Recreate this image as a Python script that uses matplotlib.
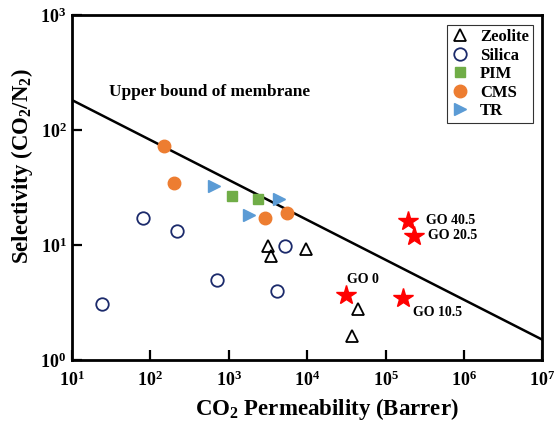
import numpy as np
import matplotlib
matplotlib.use('Agg')
import matplotlib.pyplot as plt
from matplotlib.ticker import FuncFormatter, LogLocator, NullLocator

plt.rcParams['font.family'] = ['Liberation Serif', 'DejaVu Serif']
plt.rcParams['font.weight'] = 'bold'
plt.rcParams['mathtext.fontset'] = 'custom'
plt.rcParams['mathtext.rm'] = 'Liberation Serif:bold'
plt.rcParams['mathtext.bf'] = 'Liberation Serif:bold'
plt.rcParams['mathtext.it'] = 'Liberation Serif:bold:italic'

# ---- data (CO2 permeability in Barrer, CO2/N2 selectivity) ----
zeolite_p = [3190, 3420, 9660, 44900, 36900]
zeolite_s = [9.7, 8.0, 9.2, 2.78, 1.63]

silica_p = [24, 81, 216, 714, 4160, 5260]
silica_s = [3.05, 17.3, 13.1, 5.0, 3.98, 9.7]

pim_p = [1090, 2380]
pim_s = [26.7, 25.1]

cms_p = [149, 200, 2900, 5470]
cms_s = [73, 34.8, 17.3, 19.1]

tr_p = [647, 1830, 4330]
tr_s = [32.8, 18.2, 25.1]

go_labels = ['GO 0', 'GO 10.5', 'GO 20.5', 'GO 40.5']
go_p = [31000, 168000, 232000, 195000]
go_s = [3.67, 3.44, 12.0, 16.3]

bound_p = [1e1, 1e7]
bound_s = [182, 1.5]

fig = plt.figure(figsize=(5.56, 4.22), dpi=100)
ax = fig.add_axes([0.1295, 0.147, 0.846, 0.8175])

ax.plot(bound_p, bound_s, color='k', lw=1.8, zorder=2)

ax.plot(zeolite_p, zeolite_s, '^', ms=8, mfc='none', mec='k', mew=1.3,
        ls='none', label='Zeolite', zorder=3)
ax.plot(silica_p, silica_s, 'o', ms=9, mfc='none', mec='#1b2a6b', mew=1.3,
        ls='none', label='Silica', zorder=3)
ax.plot(pim_p, pim_s, 's', ms=7, color='#70ad47', ls='none', label='PIM', zorder=3)
ax.plot(cms_p, cms_s, 'o', ms=9, color='#ed7d31', ls='none', label='CMS', zorder=3)
ax.plot(tr_p, tr_s, '>', ms=8, color='#5b9bd5', ls='none', label='TR', zorder=3)
ax.plot(go_p, go_s, '*', ms=15, color='#ff0000', ls='none', zorder=4)

# GO labels
offsets = {'GO 0': (1, 11), 'GO 10.5': (7, -10), 'GO 20.5': (10, 0), 'GO 40.5': (13, 0)}
for lab, p, s in zip(go_labels, go_p, go_s):
    dx, dy = offsets[lab]
    ax.annotate(lab, (p, s), xytext=(dx, dy), textcoords='offset points',
                fontsize=10, fontweight='bold', va='center', ha='left')

ax.text(0.0786, 0.778, 'Upper bound of membrane', transform=ax.transAxes,
        fontsize=12.4, fontweight='bold', ha='left', va='center')

ax.set_xscale('log')
ax.set_yscale('log')
ax.set_xlim(1e1, 1e7)
ax.set_ylim(1e0, 1e3)
ax.xaxis.set_major_locator(LogLocator(base=10, numticks=10))
ax.yaxis.set_major_locator(LogLocator(base=10, numticks=10))
ax.xaxis.set_minor_locator(NullLocator())
ax.yaxis.set_minor_locator(NullLocator())
fmt = FuncFormatter(lambda v, pos: r'$\mathbf{10^{%d}}$' % int(round(np.log10(v))))
ax.xaxis.set_major_formatter(fmt)
ax.yaxis.set_major_formatter(fmt)
ax.tick_params(direction='in', length=7, width=1.6, labelsize=13,
               top=False, right=False)
ax.tick_params(axis='x', pad=8)
ax.tick_params(axis='y', pad=4)

for sp in ax.spines.values():
    sp.set_linewidth(2)

ax.set_xlabel(r'CO$_\mathbf{2}$ Permeability (Barrer)', fontsize=16.5, fontweight='bold')
ax.set_ylabel(r'Selectivity (CO$_\mathbf{2}$/N$_\mathbf{2}$)', fontsize=16.4, fontweight='bold')
ax.xaxis.set_label_coords(0.541, -0.104)
ax.yaxis.set_label_coords(-0.079, 0.561)

leg = ax.legend(loc='upper right', bbox_to_anchor=(0.980, 0.971), fontsize=12,
                frameon=True, fancybox=False, handlelength=1.0, handletextpad=0.7,
                borderpad=0.25, labelspacing=0.15, borderaxespad=0)
leg.get_frame().set_edgecolor('k')
leg.get_frame().set_linewidth(0.8)
for t in leg.get_texts():
    t.set_fontweight('bold')

fig.savefig('out.png', dpi=100)
